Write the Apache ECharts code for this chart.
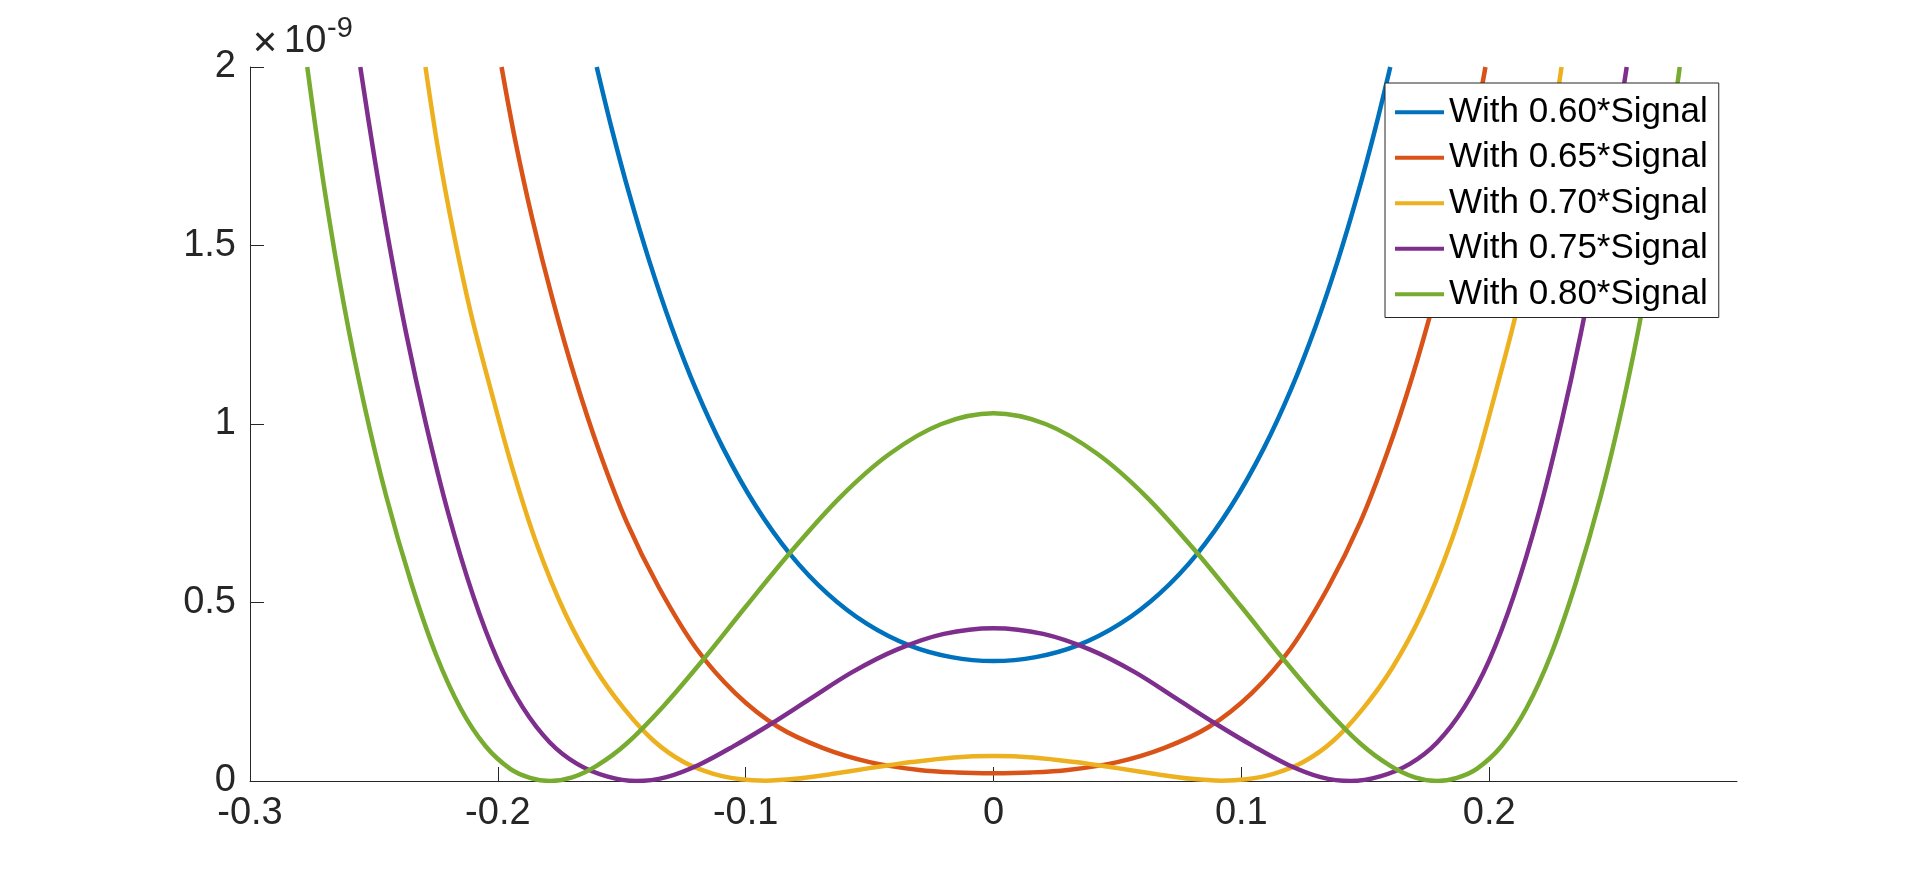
<!DOCTYPE html>
<html>
<head>
<meta charset="utf-8">
<script src="https://cdn.jsdelivr.net/npm/echarts@6/dist/echarts.min.js"></script>
<style>
html,body{margin:0;padding:0;background:#fff;}
#chart{width:1920px;height:879px;}
</style>
</head>
<body>
<div id="chart"></div>
<script>
// Values (y in units of 1e-9)
const seriesNames = ['With 0.60*Signal', 'With 0.65*Signal', 'With 0.70*Signal', 'With 0.75*Signal', 'With 0.80*Signal'];
const seriesColors = ['#0072BD', '#D95319', '#EDB120', '#7E2F8E', '#77AC30'];
const xTickValues = [-0.3, -0.2, -0.1, 0, 0.1, 0.2];
const xTickLabels = ['-0.3', '-0.2', '-0.1', '0', '0.1', '0.2'];
const yTickLabels = ['0', '0.5', '1', '1.5', '2'];

const signal060 = [
  [-0.1601, 2.0], [-0.154, 1.826], [-0.147, 1.645], [-0.139, 1.459], [-0.130, 1.274],
  [-0.120, 1.096], [-0.109, 0.931], [-0.096, 0.771], [-0.082, 0.635], [-0.067, 0.525],
  [-0.051, 0.44], [-0.034, 0.38], [-0.017, 0.347], [0, 0.336],
  [0.017, 0.347], [0.034, 0.38], [0.051, 0.44], [0.067, 0.525], [0.082, 0.635],
  [0.096, 0.771], [0.109, 0.931], [0.120, 1.096], [0.130, 1.274], [0.139, 1.459],
  [0.147, 1.645], [0.154, 1.826], [0.1601, 2.0]
];
const signal065 = [
  [-0.1985, 2.0], [-0.193, 1.795], [-0.186, 1.572], [-0.178, 1.352], [-0.169, 1.133],
  [-0.159, 0.922], [-0.148, 0.725], [-0.135, 0.542], [-0.120, 0.372], [-0.104, 0.245],
  [-0.087, 0.152], [-0.069, 0.093], [-0.050, 0.053], [-0.030, 0.031], [-0.015, 0.024],
  [0, 0.022],
  [0.015, 0.024], [0.030, 0.031], [0.050, 0.053], [0.069, 0.093], [0.087, 0.152],
  [0.104, 0.245], [0.120, 0.372], [0.135, 0.542], [0.148, 0.725], [0.159, 0.922],
  [0.169, 1.133], [0.178, 1.352], [0.186, 1.572], [0.193, 1.795], [0.1985, 2.0]
];
const signal070 = [
  [-0.2292, 2.0], [-0.224, 1.765], [-0.218, 1.54], [-0.211, 1.314], [-0.203, 1.10],
  [-0.194, 0.873], [-0.184, 0.658], [-0.173, 0.472], [-0.161, 0.318], [-0.149, 0.202],
  [-0.137, 0.112], [-0.125, 0.053], [-0.113, 0.02], [-0.102, 0.005], [-0.092, 0.001],
  [-0.080, 0.006], [-0.066, 0.019], [-0.050, 0.036], [-0.033, 0.053], [-0.016, 0.066],
  [0, 0.07],
  [0.016, 0.066], [0.033, 0.053], [0.050, 0.036], [0.066, 0.019], [0.080, 0.006],
  [0.092, 0.001], [0.102, 0.005], [0.113, 0.02], [0.125, 0.053], [0.137, 0.112],
  [0.149, 0.202], [0.161, 0.318], [0.173, 0.472], [0.184, 0.658], [0.194, 0.873],
  [0.203, 1.10], [0.211, 1.314], [0.218, 1.54], [0.224, 1.765], [0.2292, 2.0]
];
const signal075 = [
  [-0.2555, 2.0], [-0.250, 1.755], [-0.244, 1.51], [-0.237, 1.254], [-0.229, 1.0],
  [-0.220, 0.75], [-0.210, 0.52], [-0.200, 0.338], [-0.190, 0.207], [-0.179, 0.108],
  [-0.168, 0.048], [-0.156, 0.013], [-0.144, 0], [-0.132, 0.011], [-0.119, 0.045],
  [-0.105, 0.097], [-0.090, 0.159], [-0.074, 0.23], [-0.057, 0.305], [-0.039, 0.368],
  [-0.020, 0.412], [0, 0.428],
  [0.020, 0.412], [0.039, 0.368], [0.057, 0.305], [0.074, 0.23], [0.090, 0.159],
  [0.105, 0.097], [0.119, 0.045], [0.132, 0.011], [0.144, 0], [0.156, 0.013],
  [0.168, 0.048], [0.179, 0.108], [0.190, 0.207], [0.200, 0.338], [0.210, 0.52],
  [0.220, 0.75], [0.229, 1.0], [0.237, 1.254], [0.244, 1.51], [0.250, 1.755], [0.2555, 2.0]
];
const signal080 = [
  [-0.2769, 2.0], [-0.270, 1.66], [-0.262, 1.33], [-0.254, 1.057], [-0.245, 0.797],
  [-0.235, 0.556], [-0.225, 0.355], [-0.215, 0.203], [-0.205, 0.098], [-0.195, 0.034],
  [-0.187, 0.009], [-0.179, 0], [-0.170, 0.01], [-0.160, 0.043], [-0.148, 0.105],
  [-0.133, 0.211], [-0.117, 0.341], [-0.100, 0.488], [-0.082, 0.64], [-0.062, 0.794],
  [-0.042, 0.916], [-0.021, 1.0], [0, 1.03],
  [0.021, 1.0], [0.042, 0.916], [0.062, 0.794], [0.082, 0.64], [0.100, 0.488],
  [0.117, 0.341], [0.133, 0.211], [0.148, 0.105], [0.160, 0.043], [0.170, 0.01],
  [0.179, 0], [0.187, 0.009], [0.195, 0.034], [0.205, 0.098], [0.215, 0.203],
  [0.225, 0.355], [0.235, 0.556], [0.245, 0.797], [0.254, 1.057], [0.262, 1.33],
  [0.270, 1.66], [0.2769, 2.0]
];
const allSeries = [signal060, signal065, signal070, signal075, signal080];

const FONT = '"Liberation Sans", Arial, Helvetica, sans-serif';
const AXIS_COLOR = '#262626';

const chart = echarts.init(document.getElementById('chart'), null, {renderer: 'canvas'});

function xLabel(v) {
  for (let i = 0; i < xTickValues.length; i++) {
    if (Math.abs(v - xTickValues[i]) < 1e-6) return xTickLabels[i];
  }
  return '';
}
function yLabel(v) {
  const idx = Math.round(v / 0.5);
  return yTickLabels[idx] !== undefined ? yTickLabels[idx] : '';
}

const option = {
  backgroundColor: '#ffffff',
  animation: false,
  grid: {left: 250, right: 183, top: 67, bottom: 98, containLabel: false},
  xAxis: {
    type: 'value', min: -0.3, max: 0.3, interval: 0.1,
    axisLine: {show: true, onZero: false, lineStyle: {color: AXIS_COLOR, width: 1}},
    axisTick: {show: true, inside: true, length: 14, customValues: xTickValues, lineStyle: {color: AXIS_COLOR, width: 1}},
    axisLabel: {show: true, margin: 14, customValues: xTickValues, formatter: xLabel, color: AXIS_COLOR, fontSize: 38, fontFamily: FONT},
    splitLine: {show: false}
  },
  yAxis: {
    type: 'value', min: 0, max: 2, interval: 0.5,
    axisLine: {show: true, onZero: false, lineStyle: {color: AXIS_COLOR, width: 1}},
    axisTick: {show: true, inside: true, length: 14, lineStyle: {color: AXIS_COLOR, width: 1}},
    axisLabel: {show: true, margin: 14, formatter: yLabel, color: AXIS_COLOR, fontSize: 38, fontFamily: FONT},
    splitLine: {show: false}
  },
  legend: {
    orient: 'vertical', left: 1385, top: 83,
    padding: [9, 11, 3, 10],
    icon: 'rect',
    itemWidth: 49, itemHeight: 4, itemGap: 5,
    backgroundColor: '#ffffff', borderColor: AXIS_COLOR, borderWidth: 1, borderRadius: 0,
    textStyle: {fontFamily: FONT, fontSize: 35, color: '#000000', lineHeight: 40.5},
    data: seriesNames
  },
  graphic: [
    {type: 'text', x: 265, y: 44, style: {text: '×', font: '42px ' + FONT, fill: AXIS_COLOR, align: 'center', verticalAlign: 'middle'}},
    {type: 'text', x: 284, y: 41.5, style: {text: '10', font: '38px ' + FONT, fill: AXIS_COLOR, align: 'left', verticalAlign: 'middle'}},
    {type: 'text', x: 327, y: 29, style: {text: '-9', font: '29px ' + FONT, fill: AXIS_COLOR, align: 'left', verticalAlign: 'middle'}}
  ],
  series: allSeries.map((d, i) => ({
    name: seriesNames[i], type: 'line', data: d,
    smooth: 0.33, symbol: 'none', showSymbol: false,
    lineStyle: {color: seriesColors[i], width: 4.5},
    itemStyle: {color: seriesColors[i]},
    clip: true
  }))
};
chart.setOption(option);
</script>
</body>
</html>
